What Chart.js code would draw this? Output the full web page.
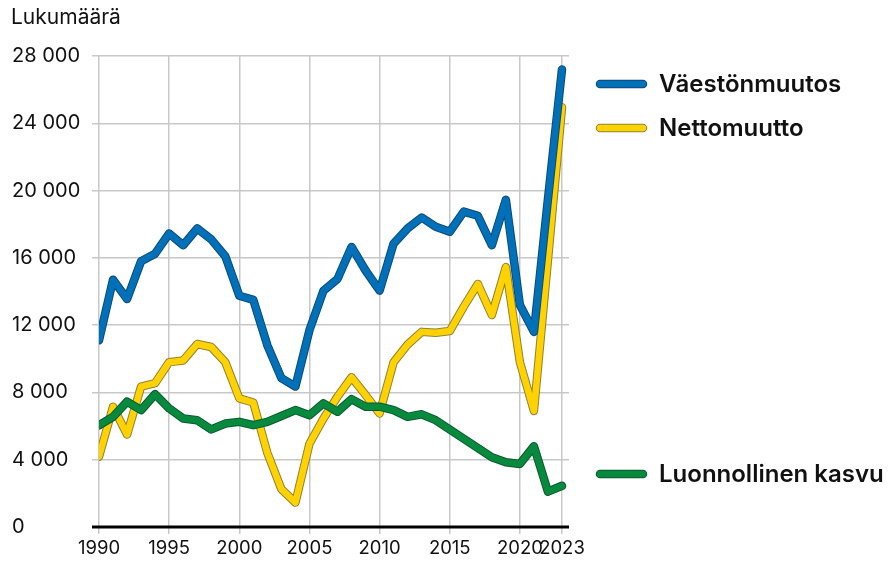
<!DOCTYPE html>
<html>
<head>
<meta charset="utf-8">
<script src="https://cdn.jsdelivr.net/npm/chart.js@4.4.1/dist/chart.umd.min.js"></script>
<style>
  html, body { margin: 0; padding: 0; background: #fff; }
  #wrap { width: 892px; height: 564px; }
</style>
</head>
<body>
<div id="wrap"><canvas id="my-chart" width="892" height="564"></canvas></div>
<script>
const years = [];
for (let y = 1990; y <= 2023; y++) years.push(y);

const vaestonmuutos = [11100, 14700, 13550, 15800, 16250, 17450, 16750, 17750, 17100, 16100,
  13750, 13500, 10800, 8850, 8350, 11700, 14050, 14750, 16650, 15250,
  14050, 16850, 17750, 18400, 17850, 17550, 18750, 18500, 16750, 19450,
  13200, 11600, 19500, 27200];
const nettomuutto = [4180, 7150, 5500, 8350, 8550, 9800, 9900, 10880, 10700, 9800,
  7650, 7400, 4400, 2250, 1450, 4950, 6450, 7750, 8900, 7850,
  6750, 9800, 10850, 11600, 11550, 11650, 13100, 14450, 12600, 15450,
  9800, 6900, 15900, 24950];
const luonnollinen = [6050, 6550, 7450, 6950, 7900, 7050, 6450, 6350, 5800, 6150,
  6250, 6050, 6250, 6600, 6950, 6650, 7350, 6850, 7600, 7150,
  7150, 6950, 6550, 6700, 6350, 5800, 5250, 4700, 4150, 3850,
  3750, 4800, 2100, 2450];

const yTicks = [0, 4000, 8000, 12000, 16000, 20000, 24000, 28000];
const xTicks = [1990, 1995, 2000, 2005, 2010, 2015, 2020, 2023];
const yTitle = 'Lukumäärä';

const series = [
  { label: 'Väestönmuutos', data: vaestonmuutos, fill: '#0071b9', edge: '#0c4a78' },
  { label: 'Luonnollinen kasvu', data: luonnollinen, fill: '#078a3e', edge: '#0b5a2c' },
  { label: 'Nettomuutto', data: nettomuutto, fill: '#ffd200', edge: '#8f8236' }
];

const fmt = v => String(v).replace(/\B(?=(\d{3})+(?!\d))/g, ' ');
const FONT = 'Inter, "Noto Sans", sans-serif';

const datasets = [];
let ord = 0;
series.forEach(s => {
  const pts = years.map((y, i) => ({ x: y, y: s.data[i] }));
  datasets.push({ label: s.label, data: pts, borderColor: s.fill, borderWidth: 6.5,
    pointRadius: 0, borderJoinStyle: 'round', borderCapStyle: 'round', order: ord++ });
  datasets.push({ label: s.label + '_edge', data: pts, borderColor: s.edge, borderWidth: 8.5,
    pointRadius: 0, borderJoinStyle: 'round', borderCapStyle: 'round', order: ord++ });
});

// legend rows: [series index, y position]
const legendRows = [[0, 84], [2, 128], [1, 474]];

const extras = {
  id: 'extras',
  afterDraw(chart) {
    const ctx = chart.ctx;
    const a = chart.chartArea;
    const yb = chart.scales.y.getPixelForValue(0);
    ctx.save();
    // x axis line
    ctx.strokeStyle = '#000';
    ctx.lineWidth = 3;
    ctx.beginPath();
    ctx.moveTo(a.left - 7, yb);
    ctx.lineTo(a.right, yb);
    ctx.stroke();
    // title
    ctx.fillStyle = '#111';
    ctx.font = '21px ' + FONT;
    ctx.textBaseline = 'middle';
    ctx.textAlign = 'left';
    ctx.fillText(yTitle, 11, 18);
    // legend
    legendRows.forEach(([si, ly]) => {
      const s = series[si];
      ctx.lineCap = 'round';
      ctx.strokeStyle = s.edge;
      ctx.lineWidth = 8.5;
      ctx.beginPath(); ctx.moveTo(600, ly); ctx.lineTo(643, ly); ctx.stroke();
      ctx.strokeStyle = s.fill;
      ctx.lineWidth = 6.5;
      ctx.beginPath(); ctx.moveTo(600, ly); ctx.lineTo(643, ly); ctx.stroke();
      ctx.fillStyle = '#111';
      ctx.font = '600 24px ' + FONT;
      ctx.fillText(s.label, 659, ly + 1);
    });
    ctx.restore();
  }
};

const chart = new Chart(document.getElementById('my-chart').getContext('2d'), {
  type: 'line',
  data: { datasets: datasets },
  options: {
    responsive: false,
    animation: false,
    layout: { padding: { left: 12, right: 323, top: 56, bottom: 0 } },
    plugins: { legend: { display: false }, tooltip: { enabled: false } },
    scales: {
      x: {
        type: 'linear',
        min: 1990,
        max: 2023.5,
        afterBuildTicks: sc => { sc.ticks = xTicks.map(v => ({ value: v })); },
        afterFit: sc => { sc.height = 37; },
        grid: { color: '#c8c8c8', lineWidth: 1.5, tickLength: 7 },
        border: { display: false },
        ticks: { color: '#111', font: { family: FONT, size: 18.5 }, padding: 3, maxRotation: 0,
          autoSkip: false, callback: v => String(v) }
      },
      y: {
        min: 0,
        max: 28000,
        afterBuildTicks: sc => { sc.ticks = yTicks.map(v => ({ value: v })); },
        afterFit: sc => { sc.width = 87; },
        grid: { color: '#c8c8c8', lineWidth: 1.5, tickLength: 7 },
        border: { display: false },
        ticks: { color: '#111', font: { family: FONT, size: 20 }, crossAlign: 'far', padding: 4,
          callback: v => fmt(v) }
      }
    }
  },
  plugins: [extras]
});
</script>
</body>
</html>
